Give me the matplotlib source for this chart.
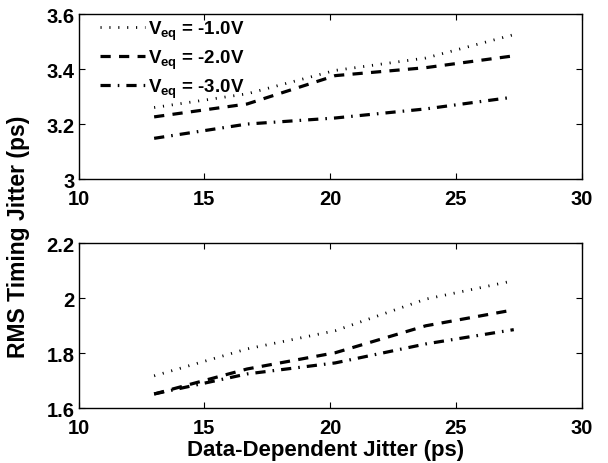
import matplotlib
matplotlib.use('Agg')
import matplotlib.pyplot as plt

plt.rcParams['font.family'] = ['Liberation Sans', 'DejaVu Sans']
plt.rcParams['font.weight'] = 'bold'
plt.rcParams['mathtext.fontset'] = 'custom'
plt.rcParams['mathtext.rm'] = 'Liberation Sans:bold'
plt.rcParams['mathtext.it'] = 'Liberation Sans:bold'
plt.rcParams['mathtext.bf'] = 'Liberation Sans:bold'

# data
ddj = [13.0, 16.7, 20.2, 23.8, 27.3]
labels = [r'$V_{eq}$ = -1.0V', r'$V_{eq}$ = -2.0V', r'$V_{eq}$ = -3.0V']
top_v1 = [3.26, 3.31, 3.395, 3.44, 3.525]
top_v2 = [3.226, 3.273, 3.376, 3.405, 3.448]
top_v3 = [3.148, 3.200, 3.222, 3.255, 3.298]
bot_v1 = [1.718, 1.816, 1.882, 1.997, 2.064]
bot_v2 = [1.652, 1.743, 1.802, 1.900, 1.958]
bot_v3 = [1.652, 1.725, 1.765, 1.834, 1.886]

styles = [dict(ls=(0, (0.4, 2.8)), lw=2.0),
          dict(ls=(0, (3.2, 2.6)), lw=2.3),
          dict(ls=(0, (3.2, 2.2, 0.5, 2.2)), lw=2.3)]

fig = plt.figure(figsize=(6.08, 4.64), dpi=100)
ax1 = fig.add_axes([0.1294, 0.612, 0.8273, 0.3556])
ax2 = fig.add_axes([0.1294, 0.1179, 0.8273, 0.3556])

for ys, st, lab in zip([top_v1, top_v2, top_v3], styles, labels):
    ax1.plot(ddj, ys, color='black', label=lab, **st)
for ys, st in zip([bot_v1, bot_v2, bot_v3], styles):
    ax2.plot(ddj, ys, color='black', **st)

ax1.set_ylim(3, 3.6)
ax1.set_yticks([3, 3.2, 3.4, 3.6])
ax1.set_yticklabels(['3', '3.2', '3.4', '3.6'])
ax2.set_ylim(1.6, 2.2)
ax2.set_yticks([1.6, 1.8, 2.0, 2.2])
ax2.set_yticklabels(['1.6', '1.8', '2', '2.2'])

for ax in (ax1, ax2):
    ax.set_xlim(10, 30)
    ax.set_xticks([10, 15, 20, 25, 30])
    ax.tick_params(direction='in', length=4, width=0.8, top=True, right=True,
                   labelsize=14.5)
    ax.tick_params(axis='x', pad=7)
    ax.tick_params(axis='y', pad=3)
    for lbl in ax.get_xticklabels() + ax.get_yticklabels():
        lbl.set_fontweight('bold')
    for sp in ax.spines.values():
        sp.set_linewidth(1.0)

leg = ax1.legend(loc='upper left', bbox_to_anchor=(0.02, 1.04), frameon=False,
                 fontsize=13.5, handlelength=2.4, handletextpad=0.15,
                 labelspacing=0.3, borderaxespad=0.2)

fig.text(0.03, 0.49, 'RMS Timing Jitter (ps)', rotation=90, ha='center',
         va='center', fontsize=16.5, fontweight='bold')
fig.text(0.535, 0.03, 'Data-Dependent Jitter (ps)', ha='center', va='center',
         fontsize=16, fontweight='bold')

fig.savefig('out.png', dpi=100, facecolor='white')
